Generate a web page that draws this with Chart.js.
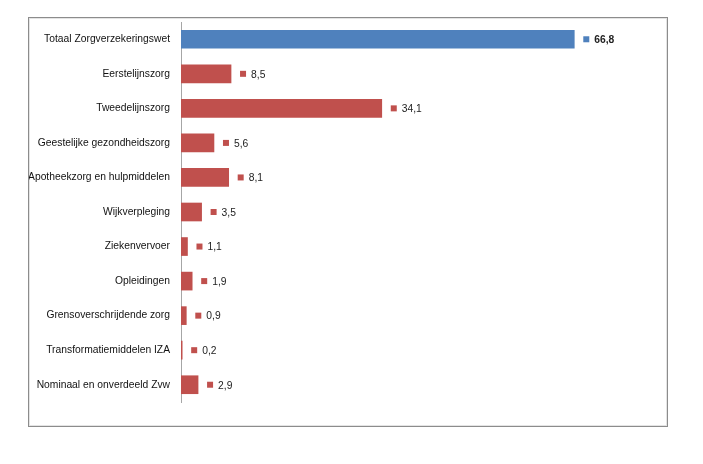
<!DOCTYPE html>
<html>
<head>
<meta charset="utf-8">
<script src="https://cdn.jsdelivr.net/npm/chart.js@4"></script>
<style>
  body { margin: 0; background: #fff; }
  #frame {
    position: absolute; left: 28px; top: 17px;
    width: 638px; height: 408px;
    border: 1px solid #8c8c8c;
    box-shadow: inset 0 0 0 1px #e4e4e4;
  }
  #chart { display: block; }
</style>
</head>
<body>
<div id="frame"><canvas id="chart" width="638" height="408"></canvas></div>
<script>
const categories = [
  'Totaal Zorgverzekeringswet',
  'Eerstelijnszorg',
  'Tweedelijnszorg',
  'Geestelijke gezondheidszorg',
  'Apotheekzorg en hulpmiddelen',
  'Wijkverpleging',
  'Ziekenvervoer',
  'Opleidingen',
  'Grensoverschrijdende zorg',
  'Transformatiemiddelen IZA',
  'Nominaal en onverdeeld Zvw'
];
const values = [66.8, 8.5, 34.1, 5.6, 8.1, 3.5, 1.1, 1.9, 0.9, 0.2, 2.9];

const blue = '#4f81bd';
const red = '#c0504d';
const barColors = values.map((v, i) => i === 0 ? blue : red);

// small square marker + value after each bar, like the Excel data labels
const valueLabels = {
  id: 'valueLabels',
  afterDatasetsDraw(chart) {
    const ctx = chart.ctx;
    const meta = chart.getDatasetMeta(0);
    ctx.save();
    meta.data.forEach((bar, i) => {
      const x = bar.x + 9;
      const y = bar.y;
      ctx.fillStyle = barColors[i];
      ctx.fillRect(x, y - 3, 6, 6);
      ctx.fillStyle = '#222';
      ctx.font = (i === 0 ? 'bold ' : '') + '10.3px "Liberation Sans", Arial, sans-serif';
      ctx.textBaseline = 'middle';
      ctx.fillText(values[i].toFixed(1).replace('.', ','), x + 11, y + 1);
    });
    ctx.restore();
  }
};

new Chart(document.getElementById('chart'), {
  type: 'bar',
  data: {
    labels: categories,
    datasets: [{
      data: values,
      backgroundColor: barColors,
      barThickness: 18
    }]
  },
  options: {
    indexAxis: 'y',
    responsive: false,
    animation: false,
    layout: { padding: { top: 4, bottom: 24, right: 15, left: 0 } },
    plugins: {
      legend: { display: false },
      tooltip: { enabled: false }
    },
    scales: {
      x: { display: false, min: 0, max: 80 },
      y: {
        grid: { display: false, drawTicks: false },
        border: { display: true, color: '#a6a6a6', width: 1 },
        ticks: {
          padding: 11,
          color: '#111',
          font: { family: '"Liberation Sans", Arial, sans-serif', size: 10.3 }
        },
        afterFit(scale) {
          scale.width = 152;
          scale.paddingTop = 0;
          scale.paddingBottom = 0;
        }
      }
    }
  },
  plugins: [valueLabels]
});
</script>
</body>
</html>
